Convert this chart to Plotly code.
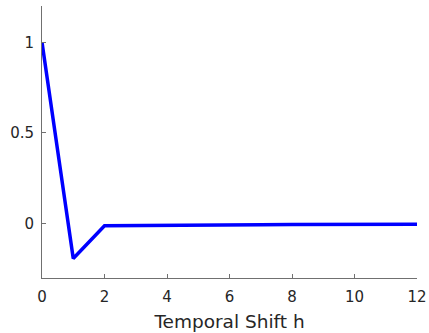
import plotly.graph_objects as go

lags = list(range(13))
acf = [1.0, -0.192, -0.012, -0.010, -0.009, -0.008, -0.007, -0.006, -0.005, -0.005, -0.004, -0.004, -0.004]
xticks = [0, 2, 4, 6, 8, 10, 12]
yticks = [0, 0.5, 1]
yticklabels = ["0", "0.5", "1"]

fig = go.Figure()
fig.add_trace(go.Scatter(x=lags, y=acf, mode="lines",
                         line=dict(color="#0000ff", width=3.5), showlegend=False))

font = dict(family="DejaVu Sans", size=15, color="#262626")
fig.update_layout(
    width=429, height=333,
    margin=dict(l=42, r=12, t=6, b=55),
    paper_bgcolor="white", plot_bgcolor="white",
    font=font,
    xaxis=dict(range=[0, 12], tickvals=xticks, ticktext=[str(v) for v in xticks],
               automargin=False,
               showgrid=False, zeroline=False, showline=True, linecolor="#707070", linewidth=1,
               ticks="inside", ticklen=4, tickcolor="#707070", ticklabelstandoff=5,
               title=dict(text="Temporal Shift h", font=dict(family="DejaVu Sans", size=18.5, color="#262626"), standoff=10)),
    yaxis=dict(range=[-0.3, 1.2], tickvals=yticks, ticktext=yticklabels,
               automargin=False,
               showgrid=False, zeroline=False, showline=True, linecolor="#707070", linewidth=1,
               ticks="inside", ticklen=4, tickcolor="#707070", ticklabelstandoff=4),
)
fig.write_html("out.html")
